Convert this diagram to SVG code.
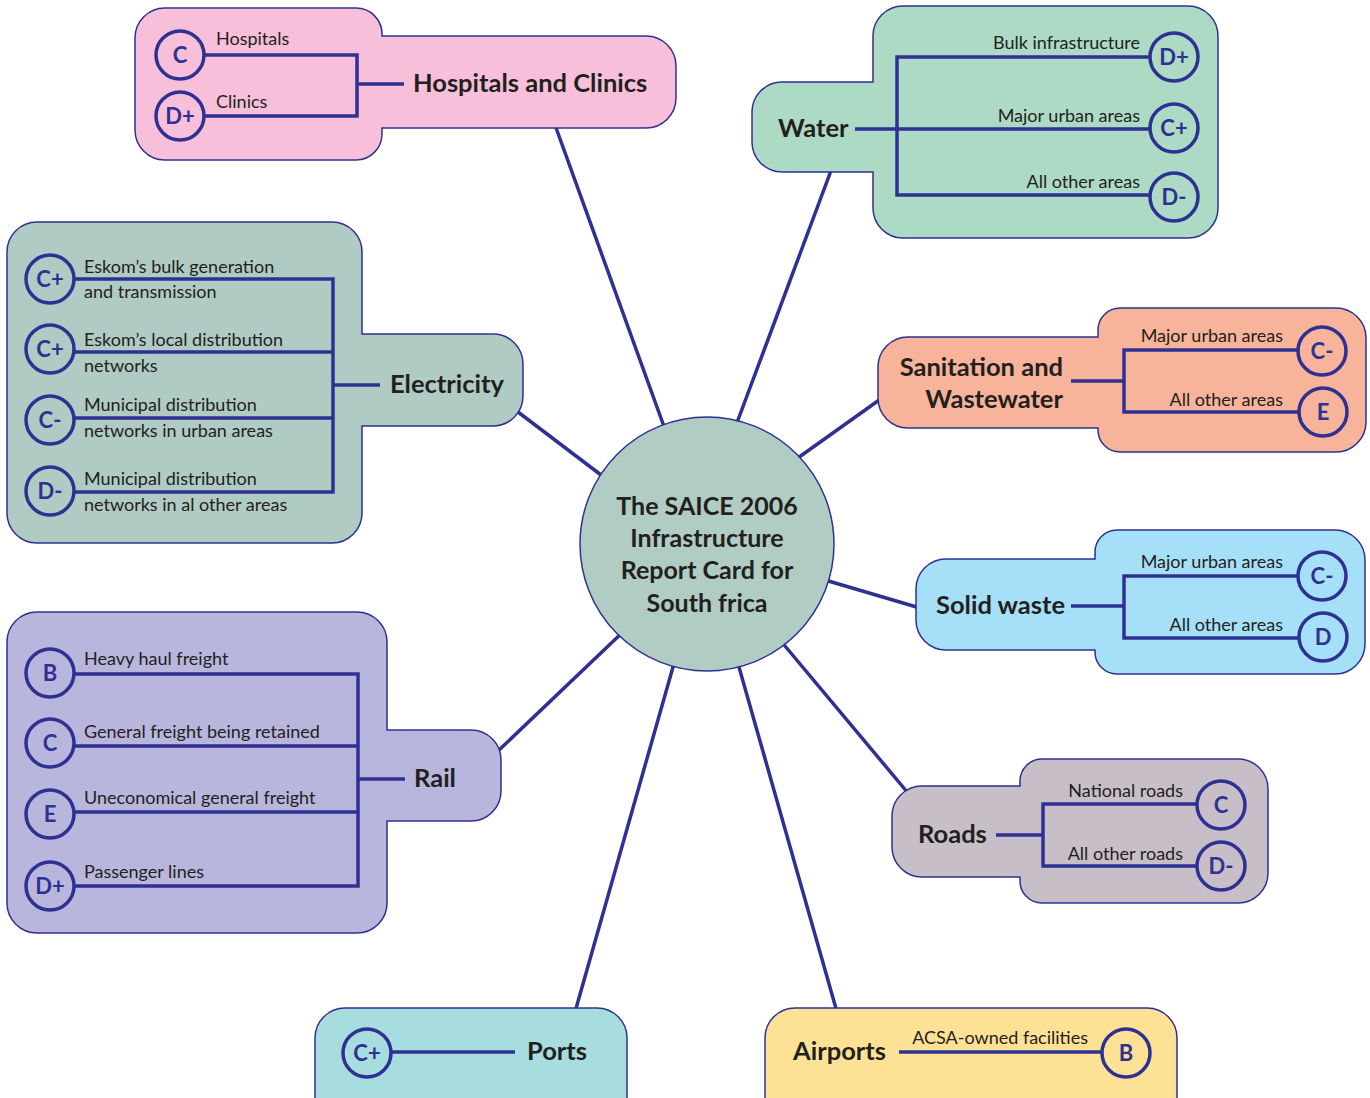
<svg xmlns="http://www.w3.org/2000/svg" width="1370" height="1098" viewBox="0 0 1370 1098">
<style>
.box{stroke:#2e3192;stroke-width:1.5}
.ln{stroke:#2e3192;stroke-width:3.5;fill:none}
.g{fill:none;stroke:#2e3192;stroke-width:3.5}
.gt{font-family:Lato,"Open Sans",sans-serif;font-weight:bold;font-size:22px;fill:#2e3192;text-anchor:middle}
.lb{font-family:Lato,"Open Sans",sans-serif;font-size:18px;fill:#231f20}
.hd{font-family:Lato,"Open Sans",sans-serif;font-weight:bold;font-size:25.5px;fill:#231f20}
.r{text-anchor:end}
</style>
<rect width="1370" height="1098" fill="#ffffff"/>
<g id="connectors" class="ln">
<line x1="666" y1="432" x2="555" y2="125"/>
<line x1="735" y1="428" x2="832" y2="168"/>
<line x1="795" y1="460" x2="882" y2="398"/>
<line x1="825" y1="580" x2="920" y2="608"/>
<line x1="780" y1="640" x2="908" y2="793"/>
<line x1="737" y1="660" x2="837" y2="1012"/>
<line x1="675" y1="660" x2="575" y2="1012"/>
<line x1="625" y1="630" x2="497" y2="752"/>
<line x1="605" y1="478" x2="518" y2="412"/>
</g>
<g id="hospitals">
<path class="box" fill="#f7bfd9" d="M165,8 H356 A26,26 0 0 1 382,34 V36 H646 A30,30 0 0 1 676,66 V98 A30,30 0 0 1 646,128 H382 V134 A26,26 0 0 1 356,160 H165 A30,30 0 0 1 135,130 V38 A30,30 0 0 1 165,8 Z"/>
<path class="ln" d="M204,55 H357 V116 H204 M357,84 H404"/>
<circle class="g" cx="180" cy="55" r="24"/><text class="gt" x="180" y="63">C</text>
<circle class="g" cx="180" cy="116" r="24"/><text class="gt" x="180" y="124">D+</text>
<text class="lb" x="216" y="45">Hospitals</text>
<text class="lb" x="216" y="108">Clinics</text>
<text class="hd" x="413" y="92">Hospitals and Clinics</text>
</g>
<g id="water">
<path class="box" fill="#acdac5" d="M903,6 H1188 A30,30 0 0 1 1218,36 V208 A30,30 0 0 1 1188,238 H903 A30,30 0 0 1 873,208 V172 H782 A30,30 0 0 1 752,142 V112 A30,30 0 0 1 782,82 H873 V36 A30,30 0 0 1 903,6 Z"/>
<path class="ln" d="M1150,57 H897 V195 H1150 M855,129 H1150"/>
<circle class="g" cx="1174" cy="57" r="24"/><text class="gt" x="1174" y="65">D+</text>
<circle class="g" cx="1174" cy="128" r="24"/><text class="gt" x="1174" y="136">C+</text>
<circle class="g" cx="1174" cy="197" r="24"/><text class="gt" x="1174" y="205">D-</text>
<text class="lb r" x="1140" y="49">Bulk infrastructure</text>
<text class="lb r" x="1140" y="122">Major urban areas</text>
<text class="lb r" x="1140" y="188">All other areas</text>
<text class="hd" x="778" y="137">Water</text>
</g>
<g id="electricity">
<path class="box" fill="#b0cbc3" d="M37,222 H332 A30,30 0 0 1 362,252 V334 H493 A30,30 0 0 1 523,364 V396 A30,30 0 0 1 493,426 H362 V513 A30,30 0 0 1 332,543 H37 A30,30 0 0 1 7,513 V252 A30,30 0 0 1 37,222 Z"/>
<path class="ln" d="M74,279 H333 V492 H74 M74,352 H333 M74,418 H333 M333,385 H380"/>
<circle class="g" cx="50" cy="279" r="24"/><text class="gt" x="50" y="287">C+</text>
<circle class="g" cx="50" cy="349" r="24"/><text class="gt" x="50" y="357">C+</text>
<circle class="g" cx="50" cy="420" r="24"/><text class="gt" x="50" y="428">C-</text>
<circle class="g" cx="50" cy="491" r="24"/><text class="gt" x="50" y="499">D-</text>
<text class="lb" x="84" y="273">Eskom’s bulk generation</text>
<text class="lb" x="84" y="298">and transmission</text>
<text class="lb" x="84" y="346">Eskom’s local distribution</text>
<text class="lb" x="84" y="372">networks</text>
<text class="lb" x="84" y="411">Municipal distribution</text>
<text class="lb" x="84" y="437">networks in urban areas</text>
<text class="lb" x="84" y="485">Municipal distribution</text>
<text class="lb" x="84" y="511">networks in al other areas</text>
<text class="hd" x="390" y="393">Electricity</text>
</g>
<g id="sanitation">
<path class="box" fill="#f8b39b" d="M1120,308 H1336 A30,30 0 0 1 1366,338 V422 A30,30 0 0 1 1336,452 H1120 A22,22 0 0 1 1098,430 V428 H908 A30,30 0 0 1 878,398 V367 A30,30 0 0 1 908,337 H1098 V330 A22,22 0 0 1 1120,308 Z"/>
<path class="ln" d="M1298,350 H1124 V412 H1298 M1071,381 H1124"/>
<circle class="g" cx="1322" cy="351" r="24"/><text class="gt" x="1322" y="359">C-</text>
<circle class="g" cx="1323" cy="412" r="24"/><text class="gt" x="1323" y="420">E</text>
<text class="lb r" x="1283" y="342">Major urban areas</text>
<text class="lb r" x="1283" y="406">All other areas</text>
<text class="hd r" x="1063" y="376">Sanitation and</text>
<text class="hd r" x="1063" y="408">Wastewater</text>
</g>
<g id="solidwaste">
<path class="box" fill="#a6e0f8" d="M1117,530 H1335 A30,30 0 0 1 1365,560 V644 A30,30 0 0 1 1335,674 H1117 A22,22 0 0 1 1095,652 V650 H946 A30,30 0 0 1 916,620 V589 A30,30 0 0 1 946,559 H1095 V552 A22,22 0 0 1 1117,530 Z"/>
<path class="ln" d="M1298,576 H1124 V638 H1298 M1071,606 H1124"/>
<circle class="g" cx="1322" cy="576" r="24"/><text class="gt" x="1322" y="584">C-</text>
<circle class="g" cx="1323" cy="637" r="24"/><text class="gt" x="1323" y="645">D</text>
<text class="lb r" x="1283" y="568">Major urban areas</text>
<text class="lb r" x="1283" y="631">All other areas</text>
<text class="hd" x="936" y="614">Solid waste</text>
</g>
<g id="roads">
<path class="box" fill="#c8bec8" d="M1042,759 H1238 A30,30 0 0 1 1268,789 V873 A30,30 0 0 1 1238,903 H1042 A22,22 0 0 1 1020,881 V877 H922 A30,30 0 0 1 892,847 V816 A30,30 0 0 1 922,786 H1020 V781 A22,22 0 0 1 1042,759 Z"/>
<path class="ln" d="M1197,804 H1043 V866 H1197 M996,835 H1043"/>
<circle class="g" cx="1221" cy="805" r="24"/><text class="gt" x="1221" y="813">C</text>
<circle class="g" cx="1221" cy="866" r="24"/><text class="gt" x="1221" y="874">D-</text>
<text class="lb r" x="1183" y="797">National roads</text>
<text class="lb r" x="1183" y="860">All other roads</text>
<text class="hd" x="918" y="843">Roads</text>
</g>
<g id="rail">
<path class="box" fill="#b8b6dc" d="M37,612 H357 A30,30 0 0 1 387,642 V730 H471 A30,30 0 0 1 501,760 V791 A30,30 0 0 1 471,821 H387 V903 A30,30 0 0 1 357,933 H37 A30,30 0 0 1 7,903 V642 A30,30 0 0 1 37,612 Z"/>
<path class="ln" d="M74,674 H358 V886 H74 M74,746 H358 M74,812 H358 M358,779 H405"/>
<circle class="g" cx="50" cy="673" r="24"/><text class="gt" x="50" y="681">B</text>
<circle class="g" cx="50" cy="743" r="24"/><text class="gt" x="50" y="751">C</text>
<circle class="g" cx="50" cy="814" r="24"/><text class="gt" x="50" y="822">E</text>
<circle class="g" cx="50" cy="886" r="24"/><text class="gt" x="50" y="894">D+</text>
<text class="lb" x="84" y="665">Heavy haul freight</text>
<text class="lb" x="84" y="738">General freight being retained</text>
<text class="lb" x="84" y="804">Uneconomical general freight</text>
<text class="lb" x="84" y="878">Passenger lines</text>
<text class="hd" x="414" y="787">Rail</text>
</g>
<g id="ports">
<rect class="box" fill="#a8dde0" x="315" y="1008" width="312" height="120" rx="30"/>
<line class="ln" x1="391" y1="1052" x2="515" y2="1052"/>
<circle class="g" cx="367" cy="1053" r="24"/><text class="gt" x="367" y="1061">C+</text>
<text class="hd" x="527" y="1060">Ports</text>
</g>
<g id="airports">
<rect class="box" fill="#fde296" x="765" y="1008" width="412" height="120" rx="30"/>
<line class="ln" x1="899" y1="1052" x2="1103" y2="1052"/>
<circle class="g" cx="1126" cy="1053" r="24"/><text class="gt" x="1126" y="1061">B</text>
<text class="lb r" x="1088" y="1044">ACSA-owned facilities</text>
<text class="hd" x="793" y="1060">Airports</text>
</g>
<g id="center">
<circle cx="707" cy="544" r="127" fill="#b0ccc3" stroke="#2e3192" stroke-width="1.5"/>
<text class="hd" x="707" y="515" text-anchor="middle" style="font-size:25px">The SAICE 2006</text>
<text class="hd" x="707" y="547" text-anchor="middle" style="font-size:25px">Infrastructure</text>
<text class="hd" x="707" y="579" text-anchor="middle" style="font-size:25px">Report Card for</text>
<text class="hd" x="707" y="612" text-anchor="middle" style="font-size:25px">South frica</text>
</g>
</svg>
